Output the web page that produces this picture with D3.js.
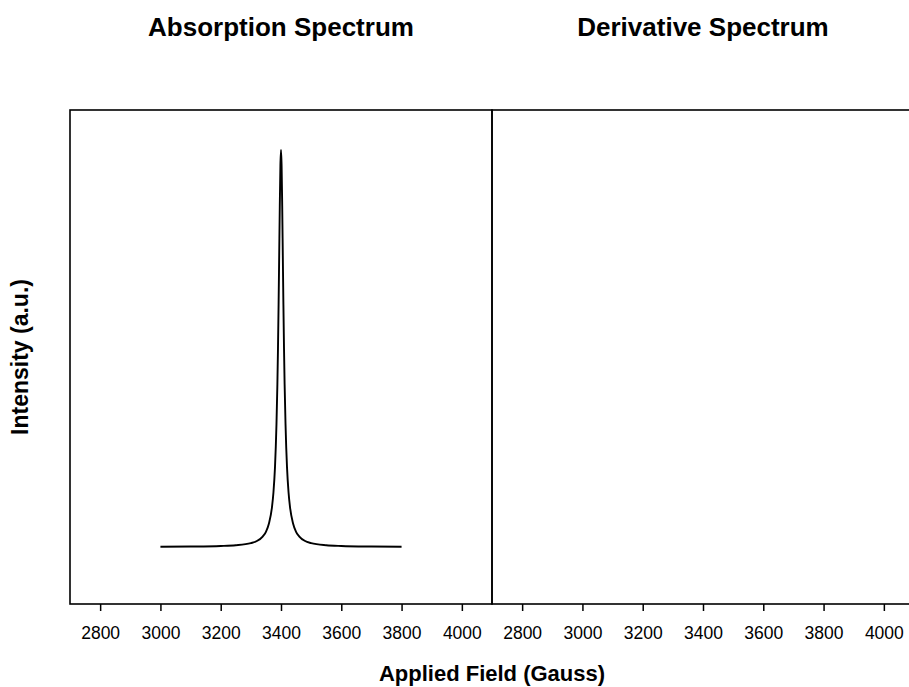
<!DOCTYPE html>
<html>
<head>
<meta charset="utf-8">
<script src="https://cdn.jsdelivr.net/npm/d3@7/dist/d3.min.js"></script>
<style>
  html, body { margin: 0; padding: 0; background: #fff; }
  svg { display: block; font-family: "Liberation Sans", Arial, sans-serif; }
</style>
</head>
<body>
<div id="chart"></div>
<script>
// panel titles and axis labels
const panelTitles = ['Absorption Spectrum', 'Derivative Spectrum'];
const xLabel = 'Applied Field (Gauss)';
const yLabel = 'Intensity (a.u.)';

// x ticks (Gauss), same for both panels
const xTicks = [2800, 3000, 3200, 3400, 3600, 3800, 4000];
const xDomain = [2700, 4100];

// absorption line (field in Gauss, relative intensity)
const field = [3000, 3100, 3200, 3250, 3300, 3320, 3340, 3350, 3360, 3370, 3375, 3380, 3385,
  3388, 3390, 3392, 3394, 3396, 3398, 3400, 3402, 3404, 3406, 3408, 3410, 3412, 3415,
  3420, 3425, 3430, 3440, 3450, 3460, 3480, 3500, 3550, 3600, 3700, 3800];
const intensity = [0.0006, 0.0011, 0.0025, 0.0044, 0.0099, 0.015, 0.027, 0.038, 0.059, 0.10, 0.138, 0.20, 0.31,
  0.41, 0.50, 0.61, 0.735, 0.86, 0.96, 1.0, 0.96, 0.86, 0.735, 0.61, 0.50, 0.41, 0.31,
  0.20, 0.138, 0.10, 0.059, 0.038, 0.027, 0.015, 0.0099, 0.0044, 0.0025, 0.0011, 0.0006];

const width = 909, height = 687;
const panels = [
  { left: 70, right: 492 },
  { left: 492, right: 914 }
];
const plotTop = 110, plotBottom = 604;

const svg = d3.select('#chart').append('svg')
  .attr('width', width)
  .attr('height', height);

const y = d3.scaleLinear().domain([0, 1]).range([547, 150]);

panels.forEach((p, i) => {
  const x = d3.scaleLinear().domain(xDomain).range([p.left, p.right]);
  const g = svg.append('g');

  // frame
  g.append('rect')
    .attr('x', p.left)
    .attr('y', plotTop)
    .attr('width', p.right - p.left)
    .attr('height', plotBottom - plotTop)
    .attr('fill', 'none')
    .attr('stroke', '#000')
    .attr('stroke-width', 1.6);

  const axis = d3.axisBottom(x)
    .tickValues(xTicks)
    .tickSize(7)
    .tickPadding(16)
    .tickFormat(d3.format('d'));

  const ax = g.append('g')
    .attr('transform', `translate(0,${plotBottom})`)
    .call(axis);
  ax.select('.domain').remove();
  ax.selectAll('.tick line').attr('stroke', '#000').attr('stroke-width', 1.5);
  ax.selectAll('.tick text')
    .attr('font-family', '"Liberation Sans", Arial, sans-serif')
    .attr('font-size', 17.5)
    .attr('fill', '#000');

  g.append('text')
    .attr('x', (p.left + p.right) / 2)
    .attr('y', 36)
    .attr('text-anchor', 'middle')
    .attr('font-size', 26)
    .attr('font-weight', 'bold')
    .text(panelTitles[i]);

  if (i === 0) {
    const pts = field.map((f, k) => [f, intensity[k]]);
    const line = d3.line()
      .x(d => x(d[0]))
      .y(d => y(d[1]))
      .curve(d3.curveMonotoneX);
    g.append('path')
      .datum(pts)
      .attr('d', line)
      .attr('fill', 'none')
      .attr('stroke', '#000')
      .attr('stroke-width', 1.9);
  }
});

svg.append('text')
  .attr('x', 492)
  .attr('y', 681)
  .attr('text-anchor', 'middle')
  .attr('font-size', 22)
  .attr('font-weight', 'bold')
  .text(xLabel);

svg.append('text')
  .attr('transform', `translate(28,${(plotTop + plotBottom) / 2}) rotate(-90)`)
  .attr('text-anchor', 'middle')
  .attr('font-size', 23)
  .attr('font-weight', 'bold')
  .text(yLabel);
</script>
</body>
</html>
